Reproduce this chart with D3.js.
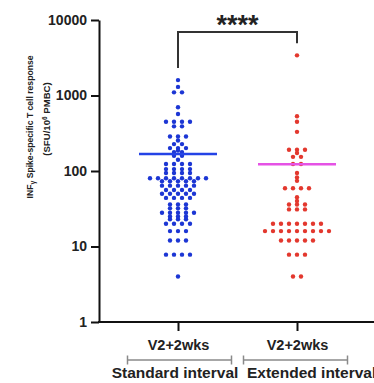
<!DOCTYPE html>
<html>
<head>
<meta charset="utf-8">
<script src="https://cdn.jsdelivr.net/npm/d3@7"></script>
<style>
  html, body { margin: 0; padding: 0; background: #fff; }
  svg { display: block; }
  text { font-family: "Liberation Sans", Arial, Helvetica, sans-serif; font-weight: bold; }
</style>
</head>
<body>
<svg id="chart" width="374" height="383"></svg>
<script>
// Groups on the x axis
const groups = ["Standard interval", "Extended interval"];
const timepoints = ["V2+2wks", "V2+2wks"];

// IFN-gamma spot counts (SFU per 10^6 PBMC), one entry per participant
const standardValues = [
  1600, 1300, 1100, 1100, 700, 570,
  450, 450, 450, 450, 390, 390,
  287, 287, 287, 254, 227, 227, 201, 201, 201, 187, 178, 178, 159, 159, 141,
  124, 124, 124, 124, 106, 106, 106, 106, 94, 94, 94, 94,
  80, 80, 80, 80, 80, 80, 80, 80, 73, 73, 73, 73, 73,
  64, 64, 64, 64, 64, 56, 56, 56, 56, 50, 50, 50, 50, 50,
  44, 44, 44, 44, 36, 36, 36, 32, 32, 32, 28, 28, 28, 28, 28,
  25, 25, 25, 23, 23, 23, 20, 20, 20, 20, 16, 16, 16, 12, 12, 12,
  7.8, 7.8, 7.8, 7.8, 4
];
const extendedValues = [
  3400, 530, 450, 330, 191, 191, 191, 173, 154, 154, 124, 124,
  94, 82, 74, 59, 59, 59, 59, 45, 40, 36, 36, 36, 31, 31, 31,
  20, 20, 20, 20, 20, 20, 20,
  16, 16, 16, 16, 16, 16, 16, 16, 16,
  12, 12, 12, 12, 12, 7.8, 7.8, 7.8, 4, 4
];
// Group summary line levels
const summaryValues = [168, 123];
const yTicks = [1, 10, 100, 1000, 10000];
const significance = "****";

const series = [
  { name: groups[0], values: standardValues, summary: summaryValues[0], dot: "#1c36d4", line: "#2443e6" },
  { name: groups[1], values: extendedValues, summary: summaryValues[1], dot: "#e3382e", line: "#e552e5" }
];

const svg = d3.select("#chart");
const W = 374;
const axisLeftX = 99, axisBottomY = 322, plotTop = 20;

const y = d3.scaleLog().domain([1, 10000]).range([axisBottomY, plotTop]);
const x = d3.scalePoint().domain(groups).range([178, 297]);

// Y axis
const yAxis = svg.append("g")
  .attr("transform", `translate(${axisLeftX},0)`)
  .call(d3.axisLeft(y).tickValues(yTicks).tickFormat(d3.format("d")).tickSize(8).tickSizeOuter(0).tickPadding(4));
yAxis.select(".domain").attr("stroke", "#111").attr("stroke-width", 2);
yAxis.selectAll(".tick line").attr("stroke", "#111").attr("stroke-width", 2);
yAxis.selectAll(".tick text").attr("font-size", 14).attr("fill", "#222")
  .attr("font-family", "'Liberation Sans', Arial, sans-serif").attr("font-weight", "bold");

// X axis baseline
svg.append("line")
  .attr("x1", axisLeftX - 1).attr("x2", W)
  .attr("y1", axisBottomY).attr("y2", axisBottomY)
  .attr("stroke", "#111").attr("stroke-width", 2);

const xAxis = svg.append("g")
  .attr("transform", `translate(0,${axisBottomY})`)
  .call(d3.axisBottom(x).tickSize(9).tickPadding(9).tickFormat((d, i) => timepoints[i]));
xAxis.select(".domain").remove();
xAxis.selectAll(".tick line").attr("stroke", "#111").attr("stroke-width", 2);
xAxis.selectAll(".tick text").attr("font-size", 14.5).attr("fill", "#222")
  .attr("font-family", "'Liberation Sans', Arial, sans-serif").attr("font-weight", "bold");

// Group brackets under the time point labels
const bracketHalf = 52, bracketY = 360;
const bracketShift = [1.5, -1.5];
const labelLayout = [{ dx: -3, anchor: "middle" }, { dx: -50, anchor: "start" }];
groups.forEach((g, i) => {
  const cx = x(g) + bracketShift[i];
  const b = svg.append("g").attr("stroke", "#8a8a8a").attr("stroke-width", 1.5);
  b.append("line").attr("x1", cx - bracketHalf).attr("x2", cx + bracketHalf).attr("y1", bracketY).attr("y2", bracketY);
  b.append("line").attr("x1", cx - bracketHalf).attr("x2", cx - bracketHalf).attr("y1", bracketY - 4.5).attr("y2", bracketY + 4.5);
  b.append("line").attr("x1", cx + bracketHalf).attr("x2", cx + bracketHalf).attr("y1", bracketY - 4.5).attr("y2", bracketY + 4.5);
  svg.append("text")
    .attr("x", x(g) + labelLayout[i].dx).attr("y", 377.5)
    .attr("text-anchor", labelLayout[i].anchor).attr("font-size", 15.5).attr("fill", "#222")
    .text(g);
});

// Y axis title, two rotated lines; each is measured and centred on its own midpoint
function rotatedLabel(cx, cy, size, parts) {
  const t = svg.append("text")
    .attr("transform", `translate(${cx},${cy}) rotate(-90)`)
    .attr("text-anchor", "start").attr("font-size", size).attr("fill", "#222");
  parts.forEach(p => {
    const sp = t.append("tspan").text(p.text);
    if (p.size) sp.attr("font-size", p.size);
    if (p.dy) sp.attr("dy", p.dy);
  });
  const len = t.node().getComputedTextLength();
  t.attr("x", -len / 2);
  return t;
}
rotatedLabel(33, 127, 8.6, [
  { text: "INF" },
  { text: "γ", size: 7, dy: 2 },
  { text: " Spike-specific T cell response", dy: -2 }
]);
rotatedLabel(50, 119, 9.6, [
  { text: "(SFU/10" },
  { text: "6", size: 6.5, dy: -3 },
  { text: " PMBC)", dy: 3 }
]);

// Column scatter: points sharing a value sit on one row, centred on the group
const spacing = 8;
series.forEach(s => {
  const cx = x(s.name);
  const rows = d3.groups(s.values, v => v);
  const pts = [];
  rows.forEach(([v, arr]) => {
    arr.forEach((_, i) => pts.push({ v, dx: (i - (arr.length - 1) / 2) * spacing }));
  });
  svg.append("g").selectAll("circle").data(pts).join("circle")
    .attr("cx", d => cx + d.dx)
    .attr("cy", d => y(d.v))
    .attr("r", 2.2)
    .attr("fill", s.dot);
  svg.append("line")
    .attr("x1", cx - 39).attr("x2", cx + 39)
    .attr("y1", y(s.summary)).attr("y2", y(s.summary))
    .attr("stroke", s.line).attr("stroke-width", 2.5);
});

// Significance bracket between the groups
const x1 = x(groups[0]), x2 = x(groups[1]);
const topY = 32;
svg.append("path")
  .attr("d", `M${x1},${y(1600) - 12}V${topY}H${x2}V${y(3400) - 12}`)
  .attr("fill", "none").attr("stroke", "#333").attr("stroke-width", 2);
svg.append("text")
  .attr("x", (x1 + x2) / 2).attr("y", 33.5)
  .attr("text-anchor", "middle").attr("font-size", 27).attr("fill", "#222")
  .text(significance);
</script>
</body>
</html>
